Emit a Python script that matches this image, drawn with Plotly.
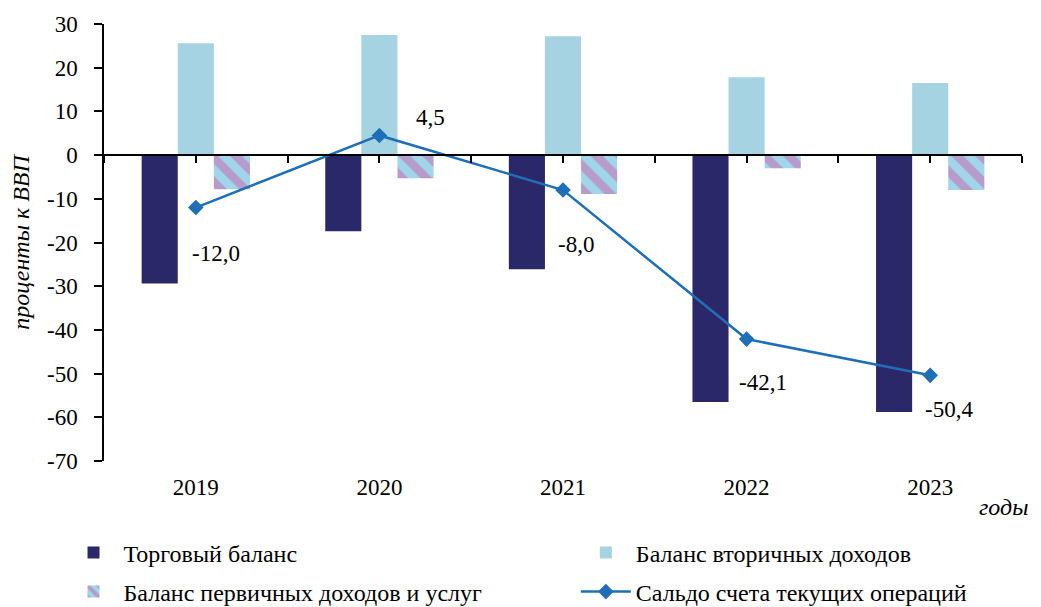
import plotly.graph_objects as go

years = ['2019', '2020', '2021', '2022', '2023']
trade = [-29.4, -17.4, -26.1, -56.5, -58.8]
secondary = [25.6, 27.5, 27.2, 17.8, 16.5]
primary = [-7.8, -5.3, -8.9, -3.0, -8.0]
current = [-12.0, 4.5, -8.0, -42.1, -50.4]
current_labels = ['-12,0', '4,5', '-8,0', '-42,1', '-50,4']
y_ticks = [30, 20, 10, 0, -10, -20, -30, -40, -50, -60, -70]

FONT = 'Liberation Serif, Times New Roman, serif'
NAVY, LIGHT, LAV, STRIPE_BG, LINE = '#2b2869', '#a6d3e2', '#b79ccb', '#9fd6ea', '#1f6fb8'

fig = go.Figure()
fig.add_trace(go.Bar(x=years, y=trade, name='Торговый баланс',
                     marker=dict(color=NAVY, line_width=0), legend='legend'))
fig.add_trace(go.Bar(x=years, y=secondary, name='Баланс вторичных доходов',
                     marker=dict(color=LIGHT, line_width=0), legend='legend2'))
fig.add_trace(go.Bar(x=years, y=primary, name='Баланс первичных доходов и услуг',
                     marker=dict(color=STRIPE_BG, line_width=0,
                                 pattern=dict(shape='\\', fgcolor=LAV, bgcolor=STRIPE_BG,
                                              size=17, solidity=0.5, fillmode='replace')),
                     legend='legend3'))
fig.add_trace(go.Scatter(x=years, y=current, name='Сальдо счета текущих операций',
                         mode='lines+markers', line=dict(color=LINE, width=2.5),
                         marker=dict(symbol='diamond', size=12, color=LINE), legend='legend4'))

# data labels of the current-account line: (dx, dy) in px from the marker to the text's left/middle
offsets = [(-6, 46), (35, -18), (-7, 54), (-10, 43), (-7, 34)]
for i, (v, t) in enumerate(zip(current, current_labels)):
    dx, dy = offsets[i]
    fig.add_annotation(xref='x', yref='y', x=i, y=v, text=t, showarrow=False,
                       xanchor='left', yanchor='middle', xshift=dx, yshift=-dy,
                       font=dict(family=FONT, size=23, color='black'))

# x axis line through zero, tick marks at category centres and boundaries
fig.add_trace(go.Scatter(x=[0], y=[0], xaxis='x2', yaxis='y', mode='markers',
                         marker=dict(opacity=0), showlegend=False, hoverinfo='skip'))

fig.add_annotation(text='<i>годы</i>', xref='paper', yref='paper', x=1.0085, y=-0.105,
                   xanchor='right', yanchor='middle', showarrow=False,
                   font=dict(family=FONT, size=24, color='black'))

leg = dict(orientation='h', xanchor='left', yanchor='middle', bgcolor='rgba(0,0,0,0)',
           font=dict(family=FONT, size=24, color='black'), itemwidth=50)
fig.update_layout(
    width=1033, height=599,
    margin=dict(l=96, r=19, t=16, b=146, autoexpand=False),
    paper_bgcolor='white', plot_bgcolor='white',
    barmode='group', bargap=0.41, bargroupgap=0,
    font=dict(family=FONT, size=23, color='black'),
    showlegend=True,
    legend=dict(leg, x=-0.0441, y=-0.2105),
    legend2=dict(leg, x=0.514, y=-0.2105),
    legend3=dict(leg, x=-0.0441, y=-0.2998),
    legend4=dict(leg, x=0.514, y=-0.2998),
    xaxis=dict(type='category', showline=False, ticks='', showgrid=False, zeroline=False,
               automargin=False, ticklabelstandoff=10,
               tickfont=dict(family=FONT, size=23, color='black'), range=[-0.5, 4.5]),
    xaxis2=dict(overlaying='x', anchor='free', position=0.7, range=[-0.5, 4.5],
                showline=True, linecolor='black', linewidth=1.5, ticks='outside', ticklen=7,
                tickwidth=1.5, tickcolor='black', tickvals=[i * 0.5 for i in range(-1, 10)],
                showticklabels=False, showgrid=False, zeroline=False),
    yaxis=dict(range=[-70, 30], tickvals=y_ticks, ticktext=[str(v) for v in y_ticks],
               showline=True, linecolor='black', linewidth=1.5, automargin=False,
               ticks='outside', ticklen=8, tickwidth=1.5, tickcolor='black', showgrid=False,
               zeroline=False, ticklabelstandoff=12,
               tickfont=dict(family=FONT, size=23, color='black'),
               title=dict(text='<i>проценты к ВВП</i>', standoff=14,
                          font=dict(family=FONT, size=24, color='black'))),
)

fig.write_html('out.html')
